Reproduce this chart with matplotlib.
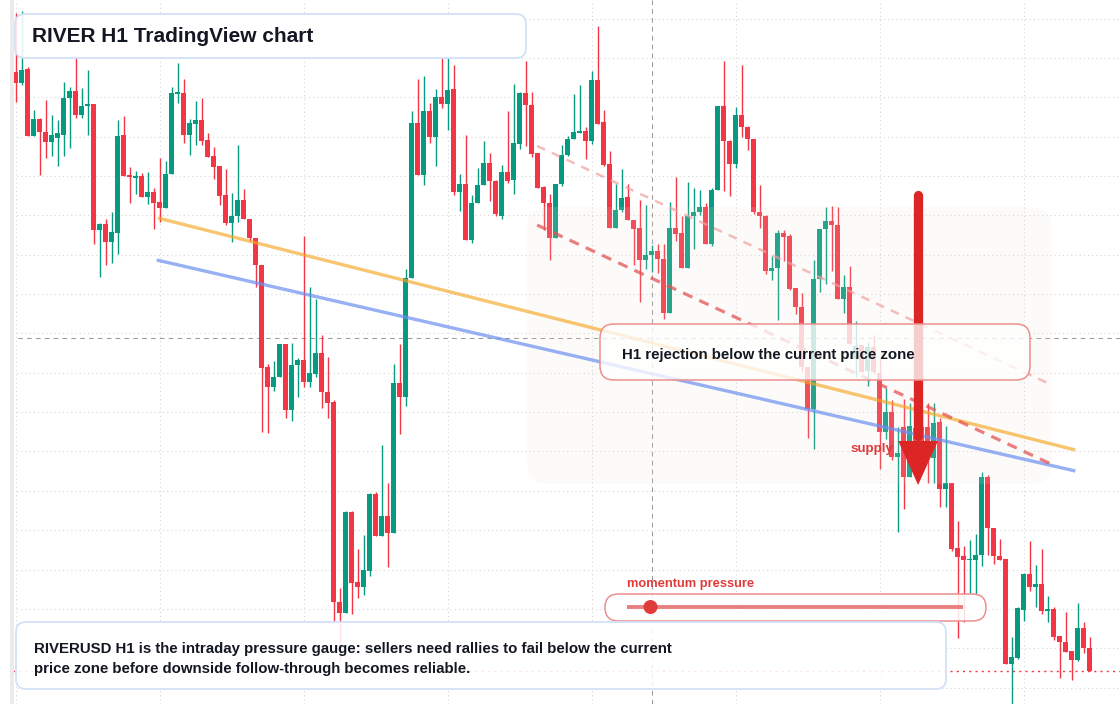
import matplotlib
matplotlib.use("Agg")
import matplotlib.pyplot as plt
import matplotlib.transforms as mtransforms
from matplotlib.patches import FancyBboxPatch, Circle, Rectangle
import numpy as np

plt.rcParams["font.family"] = ["Liberation Sans", "DejaVu Sans"]

W, H = 1120, 704

# RIVERUSD H1 candles
opens = [
    6.32, 6.21, 6.35, 5.68, 5.85, 5.72, 5.62, 5.66, 5.69, 6.06,
    6.13, 5.89, 5.98, 6.00, 4.74, 4.80, 4.62, 4.71, 5.69, 5.29,
    5.26, 5.28, 5.07, 5.12, 5.02, 4.96, 5.30, 6.10, 6.11, 5.69,
    5.80, 5.84, 5.64, 5.48, 5.38, 5.09, 4.81, 4.88, 5.04, 4.85,
    4.66, 4.39, 3.37, 3.17, 3.27, 3.60, 2.94, 3.39, 3.44, 3.22,
    3.30, 3.51, 3.12, 3.02, 1.02, 0.91, 1.92, 1.22, 1.17, 1.33,
    2.10, 1.68, 1.88, 1.71, 3.21, 3.07, 4.26, 5.81, 5.29, 5.93,
    5.67, 6.07, 6.00, 6.15, 5.12, 5.20, 4.64, 5.01, 5.19, 5.41,
    5.23, 4.88, 5.32, 5.24, 5.60, 6.11, 5.99, 5.51, 5.17, 5.01,
    4.66, 5.20, 5.49, 5.65, 5.71, 5.73, 5.63, 6.24, 5.82, 5.40,
    4.76, 4.94, 5.07, 4.84, 4.76, 4.44, 4.49, 4.53, 4.45, 3.91,
    4.76, 4.71, 4.36, 4.88, 4.92, 4.97, 4.60, 5.14, 5.98, 5.63,
    5.40, 5.89, 5.77, 5.65, 4.92, 4.88, 4.33, 4.36, 4.71, 4.68,
    4.16, 3.97, 3.37, 2.95, 4.25, 4.75, 4.83, 4.79, 4.05, 4.17,
    3.45, 3.59, 3.33, 3.57, 3.31, 2.72, 2.92, 2.47, 2.77, 2.27,
    2.76, 2.77, 2.77, 2.46, 2.82, 2.15, 2.21, 1.56, 1.48, 1.44,
    1.44, 1.49, 2.27, 1.76, 1.48, 1.45, 0.40, 0.46, 0.94, 1.30,
    1.17, 1.20, 0.93, 0.95, 0.68, 0.62, 0.53, 0.44, 0.76, 0.56,
]
highs = [
    6.91, 6.93, 6.37, 5.94, 5.86, 6.04, 5.89, 5.84, 6.22, 6.17,
    6.46, 6.16, 6.34, 6.00, 4.81, 4.85, 4.92, 5.84, 5.88, 5.37,
    5.33, 5.31, 5.32, 5.16, 5.46, 5.43, 6.17, 6.41, 6.25, 5.85,
    6.03, 6.06, 5.71, 5.57, 5.38, 5.35, 5.11, 5.59, 5.15, 4.85,
    4.66, 4.39, 3.40, 3.43, 3.60, 3.60, 3.61, 3.46, 4.68, 4.17,
    4.05, 3.69, 3.47, 3.04, 1.16, 1.93, 1.93, 1.55, 1.69, 2.11,
    2.12, 2.59, 2.21, 3.40, 3.60, 4.35, 5.93, 6.25, 6.28, 6.01,
    6.15, 6.46, 6.46, 6.39, 5.30, 5.69, 5.09, 5.36, 5.63, 5.51,
    5.24, 5.39, 5.93, 6.20, 6.12, 6.43, 6.12, 5.51, 5.18, 5.10,
    5.20, 5.59, 5.68, 6.10, 6.19, 5.77, 6.33, 6.78, 5.94, 5.53,
    5.20, 5.35, 5.20, 4.84, 5.04, 4.99, 4.59, 4.60, 4.60, 5.02,
    5.27, 4.88, 5.22, 5.16, 5.14, 5.01, 5.16, 5.98, 6.43, 5.64,
    5.97, 6.39, 5.78, 5.65, 5.19, 4.89, 4.48, 4.74, 4.74, 4.70,
    4.16, 4.11, 3.37, 4.44, 4.75, 4.97, 4.98, 4.97, 4.29, 4.38,
    3.83, 3.59, 3.62, 3.69, 3.46, 3.16, 3.04, 2.77, 3.05, 3.01,
    2.99, 2.94, 3.01, 3.01, 2.86, 2.78, 2.21, 1.83, 1.58, 1.64,
    1.70, 2.32, 2.29, 1.76, 1.65, 1.45, 0.67, 0.97, 1.31, 1.63,
    1.39, 1.55, 1.08, 0.97, 0.68, 0.92, 0.53, 1.01, 0.82, 0.67,
]
lows = [
    6.02, 6.19, 5.68, 5.68, 5.29, 5.46, 5.48, 5.38, 5.48, 5.56,
    5.86, 5.86, 5.69, 4.60, 4.27, 4.39, 4.41, 4.50, 5.28, 5.01,
    5.10, 5.07, 5.00, 4.75, 4.82, 4.96, 5.30, 6.01, 5.61, 5.49,
    5.59, 5.59, 5.47, 5.25, 4.99, 4.79, 4.62, 4.82, 4.85, 4.63,
    4.17, 2.72, 2.71, 3.13, 3.27, 2.86, 2.83, 3.07, 3.17, 3.17,
    3.27, 2.96, 2.86, 0.82, 0.44, 0.91, 0.90, 1.06, 1.09, 1.28,
    1.68, 1.68, 1.37, 1.71, 2.70, 2.98, 4.26, 5.29, 5.19, 5.61,
    5.38, 5.96, 5.74, 5.09, 4.93, 4.64, 4.61, 5.01, 5.19, 5.03,
    4.88, 4.85, 5.21, 5.10, 5.55, 5.58, 5.47, 5.16, 4.74, 4.44,
    4.66, 5.18, 5.48, 5.65, 5.71, 5.45, 5.60, 5.80, 5.38, 4.76,
    4.76, 4.92, 4.84, 4.39, 4.02, 4.35, 4.32, 4.31, 3.85, 3.91,
    4.63, 4.36, 4.36, 4.55, 4.89, 4.60, 4.58, 5.14, 5.13, 5.08,
    5.36, 5.67, 5.54, 4.90, 4.76, 4.30, 4.24, 3.84, 4.43, 4.14,
    3.90, 3.32, 2.66, 2.55, 4.12, 4.20, 4.33, 4.05, 3.91, 3.60,
    3.27, 3.32, 3.18, 3.30, 2.35, 2.65, 2.44, 1.72, 1.95, 2.27,
    2.34, 2.34, 2.21, 2.21, 1.97, 1.97, 1.53, 0.66, 0.82, 1.11,
    1.09, 1.38, 1.49, 1.40, 1.44, 0.40, 0.00, 0.45, 0.83, 1.13,
    0.97, 0.90, 0.82, 0.64, 0.26, 0.52, 0.24, 0.43, 0.51, 0.33,
]
closes = [
    6.21, 6.34, 5.68, 5.85, 5.72, 5.62, 5.69, 5.71, 6.06, 6.13,
    5.89, 5.98, 6.00, 4.74, 4.80, 4.62, 4.72, 5.68, 5.28, 5.27,
    5.28, 5.07, 5.12, 5.01, 4.96, 5.30, 6.11, 6.12, 5.69, 5.81,
    5.84, 5.63, 5.47, 5.37, 5.08, 4.81, 4.88, 5.04, 4.85, 4.66,
    4.39, 3.36, 3.17, 3.27, 3.60, 2.94, 3.39, 3.44, 3.22, 3.31,
    3.51, 3.12, 3.01, 1.02, 0.91, 1.92, 1.21, 1.17, 1.34, 2.10,
    1.68, 1.88, 1.71, 3.21, 3.07, 4.26, 5.81, 5.29, 5.93, 5.67,
    6.07, 6.00, 6.14, 5.12, 5.20, 4.64, 5.01, 5.19, 5.41, 5.23,
    4.90, 5.32, 5.23, 5.61, 6.11, 5.99, 5.50, 5.16, 5.01, 4.66,
    5.20, 5.49, 5.65, 5.72, 5.73, 5.63, 6.24, 5.80, 5.39, 4.76,
    4.94, 5.06, 4.84, 4.75, 4.44, 4.49, 4.53, 4.45, 3.91, 4.76,
    4.70, 4.36, 4.88, 4.92, 4.97, 4.60, 5.14, 5.98, 5.63, 5.40,
    5.89, 5.77, 5.65, 4.92, 4.88, 4.33, 4.36, 4.71, 4.67, 4.15,
    3.97, 3.37, 2.95, 4.25, 4.75, 4.83, 4.79, 4.05, 4.17, 3.60,
    3.58, 3.32, 3.57, 3.32, 2.72, 2.92, 2.47, 2.51, 2.27, 2.78,
    2.58, 2.44, 2.54, 2.81, 2.15, 2.21, 1.55, 1.47, 1.44, 1.45,
    1.49, 2.27, 1.76, 1.48, 1.44, 0.40, 0.47, 0.96, 1.30, 1.17,
    1.20, 0.93, 0.95, 0.67, 0.62, 0.52, 0.44, 0.76, 0.56, 0.33,
]

# drawn levels: (bar index, price)
orange_trend = [(23.7, 4.86), (176.6, 2.54)]
blue_trend = [(23.5, 4.44), (176.6, 2.33)]
red_channel = [(86.9, 4.79), (172.9, 2.39)]
pink_channel = [(86.9, 5.58), (172.7, 3.19)]

crosshair_bar = 106
crosshair_price = 3.66
arrow_bar = 150.4
arrow_top, arrow_head, arrow_tip = 5.09, 2.63, 2.19
momentum_level = 0.07

UP, DOWN = "#089981", "#f23645"
INK = "#131722"
RED_TXT = "#e03b3b"

fig = plt.figure(figsize=(W / 100, H / 100), dpi=100)
ax = fig.add_axes([0, 0, 1, 1])
ax.set_xlim(-15.7 / 6, (W - 15.7) / 6)
ax.set_ylim(0, 7.04)
for s in ax.spines.values():
    s.set_visible(False)
ax.set_xticks(np.arange(0, 181, 24))
ax.set_yticks(np.arange(6.854, 0, -0.3935))
ax.tick_params(length=0, labelleft=False, labelbottom=False)
ax.set_axisbelow(True)
ax.grid(True, color="#d4d4d4", linewidth=0.75, linestyle=(0, (1, 3)))

# pixel transform (origin top-left) for overlay boxes and labels
pix = mtransforms.Affine2D().scale(1 / W, -1 / H).translate(0, 1) + ax.transAxes

o = np.array(opens)
h = np.array(highs)
l = np.array(lows)
c = np.array(closes)
x = np.arange(len(o))
colors = np.where(c >= o, UP, DOWN)

ax.vlines(x, l, h, colors=colors, linewidth=1.0, zorder=2.1)
body = np.maximum(np.abs(c - o), 0.015)
ax.bar(x, body, bottom=np.minimum(o, c), width=0.78, color=colors, linewidth=0, zorder=2.2)

# crosshair and last price
ax.axvline(crosshair_bar, color="#9a9a9a", linewidth=0.75, linestyle=(0, (4.5, 4)), zorder=1.5)
ax.axhline(crosshair_price, color="#9a9a9a", linewidth=0.75, linestyle=(0, (4.5, 4)), zorder=1.5)
ax.axhline(closes[-1], color=DOWN, linewidth=1.0, linestyle=(0, (1.5, 3)), zorder=1.5)

# faint zone
ax.add_patch(FancyBboxPatch((527, 207), 525, 277, boxstyle="round,pad=0,rounding_size=22",
                            transform=pix, facecolor="#efe3d6", alpha=0.14, linewidth=0, zorder=2.5))

# trend lines
for pts, col, lw, a, ls in [
    (orange_trend, "#f5a623", 2.4, 0.65, "-"),
    (blue_trend, "#6b8ff0", 2.4, 0.7, "-"),
    (pink_channel, "#f0a0a0", 1.8, 0.7, (0, (3.5, 3))),
    (red_channel, "#e25555", 2.3, 0.75, (0, (3.2, 2.4))),
]:
    (x0, y0), (x1, y1) = pts
    ax.plot([x0, x1], [y0, y1], color=col, linewidth=lw, alpha=a, linestyle=ls,
            solid_capstyle="butt", zorder=3)

ax.text(851, 449, "supply", transform=pix, color=RED_TXT, fontsize=9.6,
        fontweight="bold", va="center", ha="left", zorder=3.5)

# down arrow
ax.plot([arrow_bar, arrow_bar], [arrow_top, arrow_head + 0.05], color="#dc2626",
        linewidth=6.7, solid_capstyle="round", zorder=4)
ax.fill([arrow_bar - 3.3, arrow_bar + 3.3, arrow_bar], [arrow_head, arrow_head, arrow_tip],
        color="#dc2626", linewidth=0, zorder=4)

# callout box
ax.add_patch(FancyBboxPatch((600, 324), 430, 56, boxstyle="round,pad=0,rounding_size=14",
                            transform=pix, facecolor=(1, 1, 1, 0.78), edgecolor="#ec8f8f",
                            linewidth=1.1, zorder=5))
ax.text(622, 355, "H1 rejection below the current price zone", transform=pix, color=INK,
        fontsize=10.8, fontweight="bold", va="center", ha="left", zorder=6)

# momentum gauge
ax.text(627, 584, "momentum pressure", transform=pix, color=RED_TXT, fontsize=9.3,
        fontweight="bold", va="center", ha="left", zorder=6)
ax.add_patch(FancyBboxPatch((605, 594), 381, 27, boxstyle="round,pad=0,rounding_size=13.5",
                            transform=pix, facecolor=(1, 1, 1, 0.85), edgecolor="#ec8f8f",
                            linewidth=1.1, zorder=5))
g0, g1 = 627, 963
ax.plot([g0, g1], [607, 607], transform=pix, color="#e46a6a", alpha=0.85, linewidth=2.8,
        solid_capstyle="butt", zorder=6)
ax.add_patch(Circle((g0 + momentum_level * (g1 - g0), 607), 7, transform=pix,
                    facecolor="#e03b3b", edgecolor="none", zorder=7))

# title box
ax.add_patch(FancyBboxPatch((15, 14), 511, 44, boxstyle="round,pad=0,rounding_size=10",
                            transform=pix, facecolor=(1, 1, 1, 0.88), edgecolor="#d3e1f6",
                            linewidth=1.3, zorder=5))
ax.text(32, 37, "RIVER H1 TradingView chart", transform=pix, color=INK, fontsize=15,
        fontweight="bold", va="center", ha="left", zorder=6)

# summary box
ax.add_patch(FancyBboxPatch((16, 622), 930, 67, boxstyle="round,pad=0,rounding_size=10",
                            transform=pix, facecolor=(1, 1, 1, 0.88), edgecolor="#d3e1f6",
                            linewidth=1.3, zorder=5))
ax.text(34, 649, "RIVERUSD H1 is the intraday pressure gauge: sellers need rallies to fail below the current",
        transform=pix, color=INK, fontsize=10.8, fontweight="bold", va="center", ha="left", zorder=6)
ax.text(34, 669, "price zone before downside follow-through becomes reliable.",
        transform=pix, color=INK, fontsize=10.8, fontweight="bold", va="center", ha="left", zorder=6)

# left edge: blank margin and gray strip
ax.add_patch(Rectangle((0, 0), 10, H, transform=pix, facecolor="white", linewidth=0, zorder=8))
ax.add_patch(Rectangle((10, 0), 4, H, transform=pix, facecolor="#ebebeb", linewidth=0, zorder=8))

fig.savefig("out.png", dpi=100)
